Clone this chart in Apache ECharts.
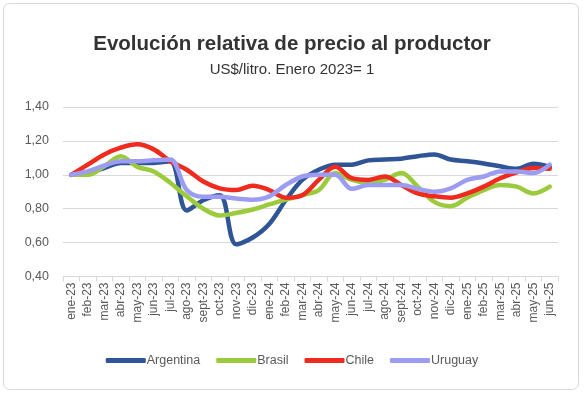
<!DOCTYPE html>
<html><head><meta charset="utf-8">
<script src="https://cdn.jsdelivr.net/npm/echarts@6/dist/echarts.min.js"></script>
<style>html,body{margin:0;padding:0;background:#fff}#c{width:584px;height:394px}</style>
</head><body><div id="c"></div>
<script>
const categories = ['ene-23','feb-23','mar-23','abr-23','may-23','jun-23','jul-23','ago-23','sept-23','oct-23','nov-23','dic-23',
  'ene-24','feb-24','mar-24','abr-24','may-24','jun-24','jul-24','ago-24','sept-24','oct-24','nov-24','dic-24',
  'ene-25','feb-25','mar-25','abr-25','may-25','jun-25'];
const argentina = [1.00,1.01,1.04,1.07,1.07,1.07,1.08,0.79,0.85,0.88,0.59,0.63,0.71,0.85,0.97,1.03,1.06,1.06,1.085,1.09,1.095,1.11,1.12,1.09,1.08,1.067,1.05,1.035,1.065,1.047];
const brasil = [1.00,1.00,1.05,1.11,1.047,1.02,0.953,0.873,0.80,0.76,0.775,0.795,0.825,0.853,0.88,0.91,1.01,0.97,0.953,0.97,1.01,0.93,0.84,0.815,0.865,0.91,0.94,0.93,0.89,0.93];
const chile = [1.00,1.06,1.12,1.16,1.18,1.15,1.08,1.03,0.96,0.92,0.91,0.935,0.91,0.865,0.88,0.97,1.047,0.98,0.97,0.99,0.94,0.89,0.873,0.865,0.89,0.93,0.98,1.015,1.04,1.035];
const uruguay = [1.00,1.02,1.055,1.08,1.08,1.086,1.09,0.91,0.87,0.87,0.86,0.853,0.873,0.94,0.99,1.00,1.00,0.917,0.94,0.94,0.94,0.917,0.90,0.92,0.97,0.99,1.02,1.02,1.01,1.06];
const yTicks = [0.40,0.60,0.80,1.00,1.20,1.40];
const names = ['Argentina','Brasil','Chile','Uruguay'];
const colors = ['#2F5597','#9BCB3C','#EE2B1E','#9C9CF2'];
const seriesData = [argentina, brasil, chile, uruguay];

const chart = echarts.init(document.getElementById('c'), null, {renderer:'canvas'});
const font = 'Liberation Sans';
chart.setOption({
  animation:false,
  backgroundColor:'#fff',
  graphic:[{type:'rect',shape:{x:3.5,y:3.5,width:575,height:386,r:6},style:{fill:'none',stroke:'#d9d9d9',lineWidth:1},z:-1}],
  title:{
    text:'Evolución relativa de precio al productor',
    subtext:'US$/litro. Enero 2023= 1',
    left:'center', top:29, itemGap:7,
    textStyle:{fontFamily:font,fontSize:20.5,fontWeight:'bold',color:'#333333'},
    subtextStyle:{fontFamily:font,fontSize:15,color:'#333333'}
  },
  legend:{
    data:names, bottom:22, left:'center', itemWidth:40, itemHeight:5, itemGap:16,
    icon:'roundRect',
    textStyle:{fontFamily:font,fontSize:12.5,color:'#595959',padding:[0,0,0,-4]}
  },
  grid:{left:63,top:107,width:495,height:169.5,containLabel:false},
  xAxis:{
    type:'category', data:categories, boundaryGap:true,
    axisLine:{lineStyle:{color:'#d9d9d9'}},
    axisTick:{show:true,length:5,lineStyle:{color:'#d9d9d9'},alignWithLabel:false},
    axisLabel:{rotate:90,interval:0,fontFamily:font,fontSize:12,color:'#595959',margin:6}
  },
  yAxis:{
    type:'value', min:0.40, max:1.40, interval:0.20,
    axisLine:{show:false}, axisTick:{show:false},
    splitLine:{lineStyle:{color:'#d9d9d9',width:1}},
    axisLabel:{fontFamily:font,fontSize:12.5,color:'#595959',margin:14,
      formatter:v=>v.toFixed(2).replace('.',',')}
  },
  series: names.map((n,i)=>({
    name:n, type:'line', data:seriesData[i], smooth:0.35, showSymbol:false, symbol:'none',
    lineStyle:{color:colors[i],width:4.5,cap:'round'}, itemStyle:{color:colors[i]}
  }))
});
</script></body></html>
